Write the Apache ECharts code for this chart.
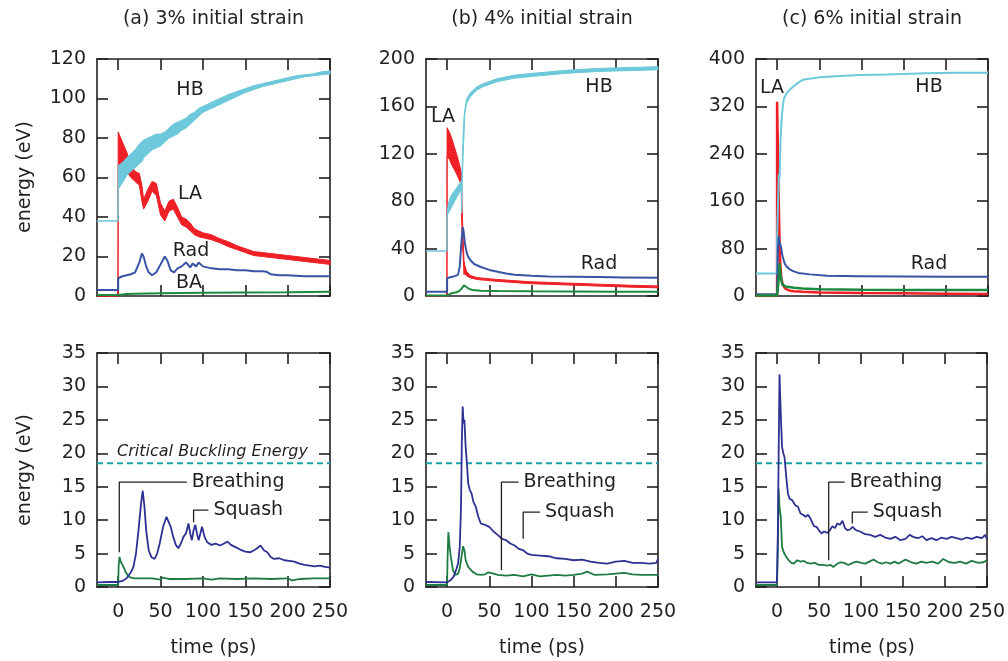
<!DOCTYPE html>
<html lang="en">
<head>
<meta charset="UTF-8">
<title>energy vs time</title>
<script src="https://cdn.jsdelivr.net/npm/echarts@6/dist/echarts.min.js"></script>
<style>html,body{margin:0;padding:0;background:#fff;}</style>
</head>
<body>
<div id="main" style="width:1008px;height:661px;"></div>
<script>
    // tick values shared by all panels
    var xTicks = [0, 50, 100, 150, 200, 250];
    var yMax = [120, 200, 400, 35, 35, 35];
    var yStep = [20, 40, 80, 5, 5, 5];
    var titles = ['(a) 3% initial strain', '(b) 4% initial strain', '(c) 6% initial strain'];
    var critical = 18.5;

    // (a) 3% : HB and LA are thick noisy bands -> lower / upper edge
    var tA = [-25, -0.2, 0, 3, 6, 10, 15, 20, 25, 28, 30, 35, 40, 45, 50, 55, 60, 65, 70, 75, 80, 85, 90, 95, 100,
        110, 120, 130, 140, 150, 160, 170, 180, 190, 200, 210, 220, 230, 240, 250];
    var hbLoA = [38, 38, 54, 56, 58, 61, 63, 65, 67, 68, 70, 72, 74, 75, 76, 78, 80, 81, 82, 84, 85, 87, 89, 91, 93,
        95, 97, 99, 101, 103, 104.5, 106, 107, 108, 109, 110, 111, 111.5, 112, 112.5];
    var hbHiA = [38, 38, 66, 67, 68, 70, 72, 74, 77, 78, 79, 80, 81, 82, 82, 83, 85, 87, 88, 89, 90, 92, 93, 95, 96,
        98, 100, 102, 103.5, 105, 106.5, 107.5, 108.5, 109.5, 110.5, 111.5, 112, 112.5, 113.5, 114];
    var laLoA = [0, 0, 66, 64, 65, 63, 60, 58, 56, 48, 44, 48, 53, 51, 41, 38, 43, 44, 40, 36, 35, 33, 31, 30, 29.5,
        28.5, 27, 25, 23.5, 22, 20.5, 20, 19.5, 19, 18.5, 18, 17.5, 17, 16.5, 16];
    var laHiA = [0, 0, 83, 80, 77, 73, 66, 63, 62, 56, 49, 54, 58, 57, 47, 43, 48, 49, 45, 40, 39, 37, 34, 33, 32,
        31, 29, 27.5, 25.5, 24, 22.5, 22, 21.5, 21, 20.5, 20, 19.5, 19, 18.5, 18];
    var radA = [[-25, 3], [0, 3], [0, 9], [5, 10], [10, 10.5], [15, 11], [20, 12], [25, 17], [28, 21.5], [30, 20],
        [33, 15], [36, 12], [40, 10.5], [45, 12], [50, 16], [55, 20], [58, 18], [62, 13], [66, 12], [70, 14],
        [75, 15], [80, 17], [85, 14.5], [88, 16.5], [92, 15], [95, 17], [100, 15], [110, 14], [120, 13.5],
        [130, 13.5], [140, 13], [150, 13], [160, 12.5], [170, 12.5], [175, 12.3], [180, 11], [190, 10.5],
        [200, 10.5], [210, 10.3], [220, 10], [230, 10], [240, 10], [250, 10]];
    var baA = [[-25, 0.5], [0, 0.5], [5, 0.8], [10, 1], [20, 1.2], [50, 1.4], [100, 1.6], [150, 1.8], [200, 1.9], [250, 2.1]];

    // (b) 4%
    var tB = [-25, -0.2, 0, 3, 6, 9, 12, 15, 16.8, 17.3, 18, 19, 20, 21, 23, 27, 35, 43, 59, 79, 99, 120, 138,
        160, 178, 200, 220, 250];
    var hbLoB = [38, 38, 68, 72, 76, 80, 84, 88, 90, 70, 95, 118, 135, 153, 162.5, 167.5, 173.7, 176.7, 180.7,
        183.7, 185.2, 186.5, 187.7, 188.7, 189.4, 189.9, 190.3, 190.9];
    var hbHiB = [38, 38, 72, 82, 86, 89, 92, 95, 97, 96, 112, 135, 150, 157, 166, 171, 176.3, 179.3, 183.3,
        186.3, 187.8, 189.1, 190.3, 191.3, 192, 192.5, 192.9, 193.5];
    var laLoB = [0, 0, 118, 115, 110, 106, 102, 97, 94, 65, 45, 35, 18, 19, 17, 15.5, 14, 13.4, 12.4, 11.4, 10.4,
        9.9, 9.4, 8.9, 8.4, 7.9, 7.4, 6.9];
    var laHiB = [0, 0, 142, 138, 132, 125, 118, 110, 104, 95, 70, 50, 30, 26, 21, 17.5, 15.6, 15, 14, 13, 12,
        11.5, 11, 10.5, 10, 9.5, 9, 8.5];
    var radB = [[-25, 3.5], [0, 3.5], [0, 15], [5, 16], [10, 17], [13, 18], [15, 25], [17, 45], [18.5, 58],
        [19.5, 55], [21, 45], [23, 37], [25, 33], [28, 30], [32, 27], [40, 24.5], [50, 22], [60, 20.5], [70, 19],
        [80, 18], [100, 17], [120, 16.5], [150, 16.3], [180, 16], [210, 15.7], [250, 15.3]];
    var baB = [[-25, 0.5], [0, 0.5], [3, 1.5], [6, 2.5], [10, 3], [14, 4], [17, 6], [20, 9], [22, 8], [25, 6.5],
        [30, 5], [40, 4.5], [60, 4.2], [100, 4], [150, 3.8], [200, 3.6], [250, 3.5]];

    // (c) 6%
    var hbC = [[-25, 38], [0, 38], [0, 100], [1, 150], [2, 205], [3, 200], [4, 260], [5, 290], [6, 310], [8, 333],
        [11, 342], [15, 348], [19, 353], [25, 360], [31, 365], [40, 367], [50, 369], [70, 371], [98, 373],
        [130, 374], [177, 376], [210, 377], [250, 377]];
    var laC = [[-25, 0], [0, 0], [0, 328], [1.5, 200], [2.5, 120], [3.5, 60], [5, 30], [7, 18], [10, 12], [15, 9],
        [20, 8], [30, 7], [50, 6], [100, 5], [150, 4.5], [200, 4], [250, 3.5]];
    var radC = [[-25, 3], [0, 3], [1, 80], [2, 101], [3, 90], [4.5, 84], [6, 70], [7.5, 62], [9, 55], [11, 50],
        [15, 45], [19, 42], [25, 39], [39, 36.5], [59, 34], [98, 33.5], [150, 33], [200, 32.5], [250, 32.5]];
    var baC = [[-25, 1], [0, 1], [2, 30], [3, 55], [4, 35], [6, 20], [10, 16], [20, 14], [30, 12.5], [50, 11.5],
        [100, 10.5], [150, 10], [200, 10], [250, 10]];

    // bottom row: radial (breathing) and squash energies
    var breathA = [[-25, 0.7], [-10, 0.75], [0, 0.75], [5, 0.9], [10, 1.3], [15, 2.2], [18, 3], [21, 5], [24, 8.5],
        [27, 12.5], [29, 14.4], [31, 12], [33, 8.5], [36, 5.5], [39, 4.5], [43, 4.2], [46, 5], [49, 6.5], [53, 9],
        [57, 10.5], [59, 10.5], [62, 9], [65, 7.5], [68, 6.3], [71, 5.8], [74, 6.5], [77, 7.5], [80, 8], [83, 9.5],
        [85, 8], [87, 7], [89, 8.5], [91, 9.3], [93, 8], [95, 7], [97, 8], [99, 9], [102, 7.5], [105, 6.7],
        [110, 6.3], [115, 6.5], [120, 6.2], [125, 6.5], [129, 6.8], [133, 6.3], [138, 6], [144, 5.6], [150, 5.3],
        [156, 5.2], [162, 5.6], [168, 6.2], [172, 5.5], [176, 5.2], [180, 4.5], [184, 4.2], [190, 4.3], [196, 4],
        [202, 3.9], [208, 3.8], [214, 3.5], [220, 3.3], [226, 3.2], [232, 3.1], [238, 3.2], [244, 3], [250, 2.9]];
    var squashA = [[-25, 0.3], [0, 0.3], [0.5, 3], [1.5, 4.5], [3, 3.8], [5, 3.3], [7, 2.8], [9, 2.2], [12, 1.6],
        [15, 1.4], [20, 1.3], [30, 1.3], [40, 1.3], [50, 1.1], [52, 1.4], [60, 1.2], [80, 1.2], [100, 1.3],
        [110, 1.1], [120, 1.3], [140, 1.2], [160, 1.3], [180, 1.2], [200, 1.3], [205, 1], [215, 1.2], [230, 1.3],
        [250, 1.3]];
    var breathB = [[-25, 0.75], [0, 0.7], [4, 1], [8, 1.6], [11, 2.7], [13, 3.5], [15, 6], [16.5, 12], [17.5, 22],
        [18.5, 27], [19.5, 24.5], [20.5, 25], [22, 21], [23.5, 18.5], [25, 15.5], [27, 14.5], [29, 14], [31, 12.8],
        [34, 12], [37, 10.5], [40, 9.5], [45, 9.3], [50, 9], [55, 8.3], [60, 7.8], [65, 7.2], [70, 7], [75, 6.5],
        [80, 6.2], [85, 5.7], [90, 5.5], [95, 5], [100, 4.8], [110, 4.7], [120, 4.6], [130, 4.3], [140, 4.2],
        [150, 4], [160, 4.1], [170, 3.8], [180, 3.6], [190, 3.5], [200, 3.8], [210, 3.9], [220, 3.6], [230, 3.6],
        [240, 3.5], [248, 3.6], [250, 4.2]];
    var squashB = [[-25, 0.3], [0, 0.3], [0.5, 4], [1.5, 8.2], [3, 6], [4.5, 4.5], [7, 2.5], [10, 1.8], [13, 2],
        [15, 2.8], [17, 4.5], [19, 6.1], [20.5, 5.5], [22, 4], [25, 3], [30, 2.3], [35, 1.9], [40, 1.8], [45, 1.9],
        [49, 2.2], [55, 2], [60, 1.8], [70, 1.7], [80, 1.8], [90, 1.6], [100, 1.9], [110, 1.6], [120, 1.7],
        [130, 1.8], [140, 1.7], [150, 1.8], [160, 2], [166, 2.3], [175, 1.8], [190, 1.9], [200, 2], [210, 2.1],
        [220, 1.9], [230, 1.8], [240, 1.8], [250, 1.8]];
    var breathC = [[-25, 0.7], [0, 0.7], [1, 8], [2, 20], [3, 31.8], [4.5, 26], [6, 21], [7.5, 20], [9, 19.4],
        [11, 16.5], [13, 14], [15, 13.2], [18, 13], [22, 12.2], [25, 12], [28, 11], [31, 10.8], [34, 10.5],
        [37, 10.8], [40, 10.2], [44, 9.1], [47, 9], [50, 8.5], [53, 8], [56, 8.3], [60, 8.1], [63, 8.5], [66, 9.1],
        [69, 8.8], [72, 9.5], [75, 9.3], [78, 9.9], [81, 8.8], [84, 8.5], [87, 8.6], [90, 9], [94, 8.5], [99, 8.3],
        [105, 7.9], [111, 7.8], [117, 7.5], [123, 7.8], [129, 7.4], [135, 7.2], [141, 7.5], [147, 7], [153, 7.2],
        [158, 7.8], [162, 7.5], [168, 7.3], [173, 7.6], [178, 7], [184, 7.3], [190, 7], [196, 7.4], [202, 7.2],
        [208, 7.5], [214, 7.3], [220, 7.1], [226, 7.4], [232, 7.2], [238, 7.5], [244, 7.3], [248, 7.8], [250, 7.2]];
    var squashC = [[-25, 0.3], [0, 0.3], [1, 6], [2, 14.7], [3, 12], [4.5, 10.5], [6, 6], [8, 5.2], [11, 4.5],
        [14, 4], [17, 3.6], [20, 3.5], [24, 4], [28, 3.8], [32, 3.9], [36, 3.6], [40, 3.5], [45, 3.6], [50, 3.3],
        [55, 3.3], [60, 3.2], [64, 3.3], [67, 3], [72, 3.5], [76, 3.7], [80, 3.6], [85, 3.3], [90, 3.6], [95, 3.8],
        [100, 3.6], [105, 3.5], [110, 3.8], [115, 4.1], [120, 3.7], [125, 3.5], [130, 3.7], [135, 3.5], [140, 3.8],
        [145, 3.5], [153, 4.1], [160, 3.7], [166, 3.5], [172, 3.8], [178, 3.6], [185, 3.8], [192, 3.5], [198, 4.2],
        [205, 3.7], [212, 3.6], [218, 3.8], [225, 3.5], [232, 3.9], [240, 3.6], [246, 3.7], [250, 4]];

    // annotation brackets (data coords) for the bottom panels
    var breathMark = [[[1.3, 5.2], [1.3, 15.7], [81, 15.7]], [[64.4, 2.5], [64.4, 15.7], [84.6, 15.7]], [[61.6, 4], [61.6, 15.7], [80.6, 15.7]]];
    var squashMark = [[[89, 9.7], [89, 11.5], [106.5, 11.5]], [[90.2, 7.2], [90.2, 11.2], [110, 11.2]], [[89.7, 9.5], [89.7, 11.2], [108, 11.2]]];

    var FONT = 'DejaVu Sans';
    var INK = '#231f20';
    var cHB = '#6cc8da', cLA = '#ee2026', cRad = '#3953a4', cBA = '#1b8a3e';
    var cBreath = '#2e3192', cSquash = '#1e7b43', cCrit = '#1ba3aa';

    var gridPos = [
        {left: 97, top: 59, width: 233, height: 237},
        {left: 426, top: 59, width: 232, height: 237},
        {left: 756, top: 59, width: 232, height: 237},
        {left: 97, top: 353, width: 233, height: 234},
        {left: 426, top: 353, width: 232, height: 234},
        {left: 756, top: 353, width: 232, height: 234}
    ];

    var grids = [], xAxes = [], yAxes = [];
    var axisLine = {show: true, onZero: false, lineStyle: {color: INK, width: 1.6}};
    var tick = {show: true, inside: true, length: 11, lineStyle: {color: INK, width: 1.6}};
    for (var g = 0; g < 6; g++) {
        grids.push(Object.assign({show: false}, gridPos[g]));
        var bottomRow = g >= 3;
        xAxes.push({
            type: 'value', gridIndex: g, position: 'bottom', min: -25, max: 250,
            axisLine: axisLine, splitLine: {show: false},
            axisTick: Object.assign({customValues: xTicks}, tick),
            axisLabel: {show: bottomRow, customValues: xTicks, fontSize: 19, fontFamily: FONT, color: INK, margin: 16}
        });
        xAxes.push({
            type: 'value', gridIndex: g, position: 'top', min: -25, max: 250,
            axisLine: axisLine, splitLine: {show: false},
            axisTick: Object.assign({customValues: xTicks}, tick),
            axisLabel: {show: false, customValues: xTicks}
        });
        yAxes.push({
            type: 'value', gridIndex: g, position: 'left', min: 0, max: yMax[g], interval: yStep[g],
            axisLine: axisLine, splitLine: {show: false}, axisTick: tick,
            axisLabel: {fontSize: 19, fontFamily: FONT, color: INK, margin: 11}
        });
        yAxes.push({
            type: 'value', gridIndex: g, position: 'right', min: 0, max: yMax[g], interval: yStep[g],
            axisLine: axisLine, splitLine: {show: false}, axisTick: tick,
            axisLabel: {show: false}
        });
    }

    function lineS(g, data, color, width) {
        return {
            type: 'line', xAxisIndex: 2 * g, yAxisIndex: 2 * g, data: data, symbol: 'none',
            lineStyle: {color: color, width: width}, silent: true, animation: false
        };
    }

    // noisy band: polygon between lower and upper edge, placed through the axes
    function bandS(g, t, lo, hi, color) {
        return {
            type: 'custom', xAxisIndex: 2 * g, yAxisIndex: 2 * g, silent: true, animation: false,
            data: [[t[0], lo[0]]],
            renderItem: function (params, api) {
                var pts = [];
                for (var k = 0; k < t.length; k++) pts.push(api.coord([t[k], hi[k]]));
                for (var k2 = t.length - 1; k2 >= 0; k2--) pts.push(api.coord([t[k2], lo[k2]]));
                return {
                    type: 'polygon', shape: {points: pts},
                    style: {fill: color, stroke: color, lineWidth: 1}
                };
            }
        };
    }

    function bracketS(g, pts, text) {
        return {
            type: 'line', xAxisIndex: 2 * g, yAxisIndex: 2 * g, data: pts, symbol: 'none',
            lineStyle: {color: INK, width: 1.3}, silent: true, animation: false,
            endLabel: {show: true, formatter: text, fontSize: 19, fontFamily: FONT, color: INK, distance: 5}
        };
    }

    var series = [];
    // (a)
    series.push(bandS(0, tA, laLoA, laHiA, cLA));
    series.push(bandS(0, tA, hbLoA, hbHiA, cHB));
    series.push(lineS(0, radA, cRad, 2));
    series.push(lineS(0, baA, cBA, 2));
    // (b)
    series.push(bandS(1, tB, laLoB, laHiB, cLA));
    series.push(bandS(1, tB, hbLoB, hbHiB, cHB));
    series.push(lineS(1, radB, cRad, 2));
    series.push(lineS(1, baB, cBA, 2));
    // (c)
    series.push(lineS(2, laC, cLA, 2.5));
    series.push(lineS(2, hbC, cHB, 2));
    series.push(lineS(2, radC, cRad, 2));
    series.push(lineS(2, baC, cBA, 2.5));
    // bottom
    var breaths = [breathA, breathB, breathC], squashes = [squashA, squashB, squashC];
    for (var i = 0; i < 3; i++) {
        series.push(Object.assign(lineS(3 + i, [[-25, critical], [250, critical]], cCrit, 2),
            {lineStyle: {color: cCrit, width: 2, type: [6, 4]}}));
        series.push(lineS(3 + i, squashes[i], cSquash, 1.8));
        series.push(lineS(3 + i, breaths[i], cBreath, 1.8));
        series.push(bracketS(3 + i, breathMark[i], 'Breathing'));
        series.push(bracketS(3 + i, squashMark[i], 'Squash'));
    }

    function txt(x, y, s, size, extra) {
        return Object.assign({
            type: 'text', x: x, y: y, silent: true,
            style: {text: s, font: (size || 19) + 'px "' + FONT + '"', fill: INK, align: 'center', verticalAlign: 'middle'}
        }, extra || {});
    }
    var centres = [213.5, 542, 872];
    var graphics = [];
    for (var j = 0; j < 3; j++) {
        graphics.push(txt(centres[j], 19, titles[j]));
        graphics.push(txt(centres[j], 648, 'time (ps)'));
    }
    graphics.push(txt(25, 177, 'energy (eV)', 19, {rotation: Math.PI / 2}));
    graphics.push(txt(25, 470, 'energy (eV)', 19, {rotation: Math.PI / 2}));
    graphics.push(txt(190, 90, 'HB'), txt(190, 194, 'LA'), txt(191, 251, 'Rad'), txt(189, 283, 'BA'));
    graphics.push(txt(599, 87, 'HB'), txt(443, 117, 'LA'), txt(599, 264, 'Rad'));
    graphics.push(txt(772, 88, 'LA'), txt(929, 87, 'HB'), txt(929, 264, 'Rad'));
    var crit = txt(212.5, 451.5, 'Critical Buckling Energy', 16);
    crit.style.font = 'italic 16px "' + FONT + '"';
    graphics.push(crit);

    var chart = echarts.init(document.getElementById('main'), null, {renderer: 'canvas'});
    chart.setOption({
        animation: false,
        backgroundColor: '#fff',
        textStyle: {fontFamily: FONT},
        grid: grids,
        xAxis: xAxes,
        yAxis: yAxes,
        series: series,
        graphic: graphics
    });
</script>
</body>
</html>
